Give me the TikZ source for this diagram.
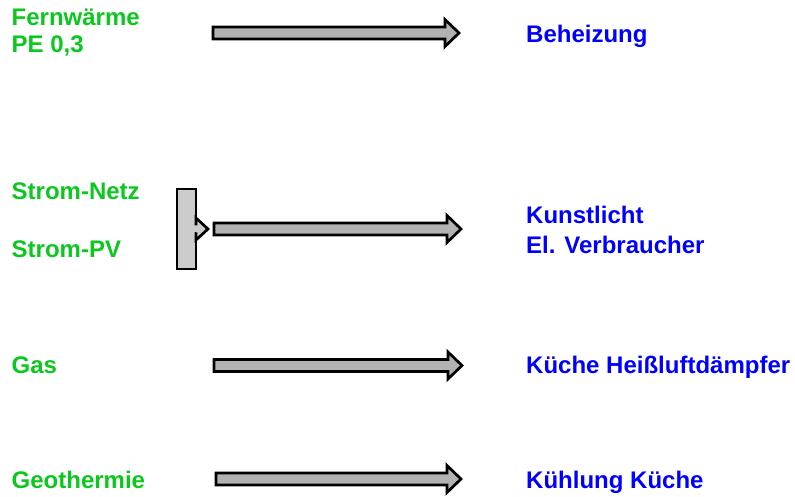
\documentclass[tikz,border=0pt]{standalone}
\usepackage{fontspec}
\setmainfont{Liberation Sans}
\usetikzlibrary{calc}
\definecolor{srcgreen}{RGB}{10,200,30}
\definecolor{useblue}{RGB}{0,0,255}
\definecolor{arrowgray}{RGB}{178,178,178}
\definecolor{boxgray}{RGB}{204,204,204}
\tikzset{
  lbl/.style={anchor=base west, inner sep=0pt, font=\fontsize{24}{28}\selectfont\bfseries},
  source/.style={lbl, text=srcgreen},
  target/.style={lbl, text=useblue},
  blockarr/.style={draw=black, line width=2.7pt, fill=arrowgray, line join=miter},
  mergebox/.style={draw=black, line width=2.7pt, fill=boxgray}
}
% block arrow from coordinate #1 to coordinate #2 (same height)
\newcommand{\blockarrow}[2]{%
  \path[blockarr] let \p1=(#1), \p2=(#2) in
    (\x1,\y1+6pt) -- (\x2-14pt,\y1+6pt) -- (\x2-14pt,\y1+13.5pt) -- (\x2,\y1)
    -- (\x2-14pt,\y1-13.5pt) -- (\x2-14pt,\y1-6pt) -- (\x1,\y1-6pt) -- cycle;}
\begin{document}
\begin{tikzpicture}[x=1pt,y=-1pt]
\useasboundingbox (0,0) rectangle (795,497);

% energy sources
\node[source] (fw1) at (11.5,26) {Fernwärme};
\node[source] (fw2) at (11.5,53) {PE 0,3};
\node[source] (sn) at (11.5,200) {Strom-Netz};
\node[source] (spv) at (11.5,258) {Strom-PV};
\node[source] (gas) at (11.5,373) {Gas};
\node[source] (geo) at (11.5,488) {Geothermie};

% consumers
\node[target] (heiz) at (526,43) {Beheizung};
\node[target] (licht1) at (526,223) {Kunstlicht};
\node[target] (licht2) at (526,253) {El. Verbraucher};
\node[target] (kueche) at (526,373) {Küche Heißluftdämpfer};
\node[target] (kuehl) at (526,488) {Kühlung Küche};

% arrow end points
\coordinate (a1s) at (213,33);   \coordinate (a1e) at (459,33);
\coordinate (a2s) at (214,229);  \coordinate (a2e) at (461,229);
\coordinate (a3s) at (214,365.5);\coordinate (a3e) at (462,365.5);
\coordinate (a4s) at (216,479);  \coordinate (a4e) at (461,479);

\blockarrow{a1s}{a1e}
\blockarrow{a2s}{a2e}
\blockarrow{a3s}{a3e}
\blockarrow{a4s}{a4e}

% bar merging both electricity sources
\node[mergebox, minimum width=19pt, minimum height=80pt, inner sep=0pt] (merge) at (186.5,229) {};
\fill[boxgray] (193,225.5) rectangle (198.5,232.5);
\path[fill=boxgray] (196,218) -- (208,229) -- (196,240) -- cycle;
\draw[line width=2.7pt, line join=miter] (196,225.5) -- (196,218) -- (208,229) -- (196,240) -- (196,232.5);
\end{tikzpicture}
\end{document}
